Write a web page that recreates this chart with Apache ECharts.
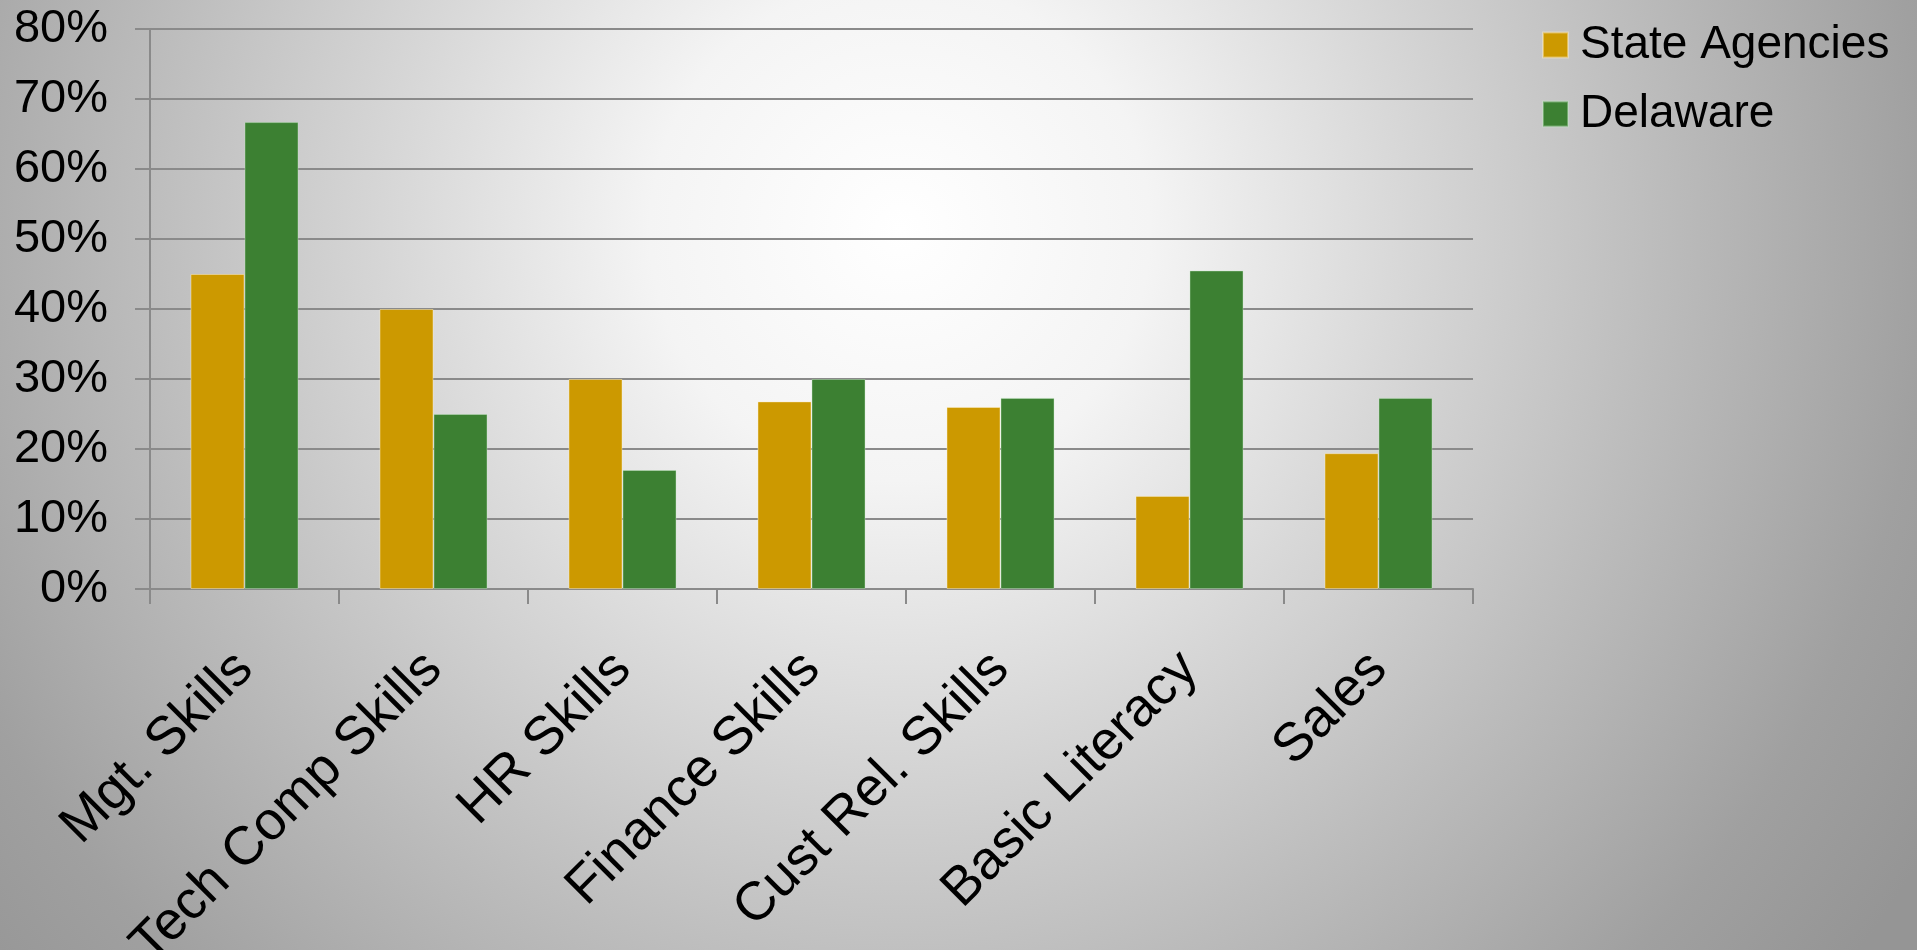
<!DOCTYPE html>
<html>
<head>
<meta charset="utf-8">
<script src="https://cdn.jsdelivr.net/npm/echarts@6/dist/echarts.min.js"></script>
<style>
  html, body { margin: 0; padding: 0; width: 100%; height: 100%; overflow: hidden; }
  #chart {
    width: 1917px; height: 950px;
    background: radial-gradient(circle at 900px 230px,
      #ffffff 0px, #f4f4f4 250px, #d8d8d8 500px, #bcbcbc 760px, #a0a0a0 1030px, #959595 1200px);
  }
</style>
</head>
<body>
<div id="chart"></div>
<script>
// Skill categories along the x axis
const categories = ['Mgt. Skills', 'Tech Comp Skills', 'HR Skills', 'Finance Skills',
                    'Cust Rel. Skills', 'Basic Literacy', 'Sales'];
// Share of respondents (%)
const stateAgencies = [45, 40, 30, 26.8, 26, 13.3, 19.4];
const delaware = [66.7, 25, 17, 30, 27.3, 45.5, 27.3];
const seriesNames = ['State Agencies', 'Delaware'];

const FONT = '"Liberation Sans", Arial, Helvetica, sans-serif';
const chart = echarts.init(document.getElementById('chart'), null, { renderer: 'canvas' });

chart.setOption({
  backgroundColor: 'transparent',
  animation: false,
  grid: { left: 150, right: 444, top: 29, bottom: 361, containLabel: false, outerBoundsMode: 'none' },
  legend: {
    orient: 'vertical',
    left: 1537,
    top: 17,
    itemWidth: 25,
    itemHeight: 25,
    itemGap: 23,
    icon: 'rect',
    data: seriesNames,
    textStyle: { fontFamily: FONT, fontSize: 46, color: '#000', lineHeight: 46, padding: [0, 0, 0, 7] }
  },
  xAxis: {
    type: 'category',
    data: categories,
    axisLine: { lineStyle: { color: '#8a8a8a', width: 2 } },
    axisTick: { show: true, length: 15, lineStyle: { color: '#8a8a8a', width: 2 } },
    axisLabel: {
      rotate: 45, margin: 72, interval: 0,
      fontFamily: FONT, fontSize: 54, color: '#000'
    }
  },
  yAxis: {
    type: 'value',
    min: 0, max: 80, interval: 10,
    axisLine: { show: true, lineStyle: { color: '#8a8a8a', width: 2 } },
    axisTick: { show: true, length: 15, lineStyle: { color: '#8a8a8a', width: 2 } },
    splitLine: { show: true, lineStyle: { color: '#8a8a8a', width: 2 } },
    axisLabel: {
      margin: 42, formatter: '{value}%',
      fontFamily: FONT, fontSize: 47, color: '#000'
    }
  },
  series: [
    {
      name: seriesNames[0], type: 'bar', data: stateAgencies,
      barGap: '0%', barCategoryGap: '42.86%',
      itemStyle: { color: '#CC9900', borderColor: 'rgba(255,240,200,0.45)', borderWidth: 1 }
    },
    {
      name: seriesNames[1], type: 'bar', data: delaware,
      barGap: '0%', barCategoryGap: '42.86%',
      itemStyle: { color: '#3C8032', borderColor: 'rgba(200,235,200,0.4)', borderWidth: 1 }
    }
  ]
});
</script>
</body>
</html>
